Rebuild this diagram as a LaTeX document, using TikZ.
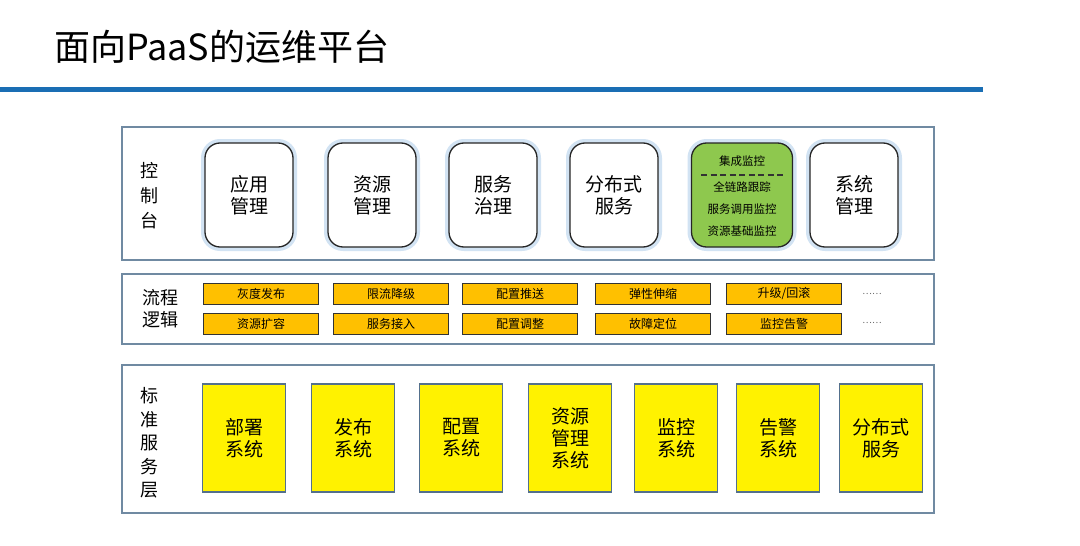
\documentclass[tikz,border=0pt]{standalone}
\usepackage{fontspec}
\setmainfont{Noto Sans CJK SC}
\usetikzlibrary{positioning}
\definecolor{titlebar}{RGB}{26,110,180}
\definecolor{layerline}{RGB}{112,138,162}
\definecolor{glow}{RGB}{210,227,243}
\definecolor{monfill}{RGB}{142,200,78}
\definecolor{procfill}{RGB}{255,192,0}
\definecolor{stdline}{RGB}{84,112,140}
\tikzset{
  layer/.style = {draw=layerline, line width=1.3},
  side/.style = {align=center, font=\fontsize{18}{24}\selectfont},
  ctrl/.style = {draw=black!85, line width=1.3, rounded corners=15, fill=white,
    minimum width=88, minimum height=104, align=center,
    font=\fontsize{19}{22}\selectfont,
    preaction={draw=glow, line width=8}},
  ctrlmon/.style = {ctrl, fill=monfill, minimum width=101},
  montext/.style = {font=\fontsize{11.5}{13}\selectfont},
  proc/.style = {draw=black!80, line width=1, fill=procfill, minimum width=115,
    minimum height=21, inner sep=0, font=\fontsize{12}{14}\selectfont},
  std/.style = {draw=stdline, line width=1.2, fill=yellow, minimum width=83,
    minimum height=108, align=center, font=\fontsize{19}{22}\selectfont}
}
\begin{document}
\begin{tikzpicture}[x=1pt, y=-1pt]
  \useasboundingbox (0,0) rectangle (1080,546);

  % title
  \node [anchor=west, inner sep=0, font=\fontsize{36}{40}\selectfont] (title) at (54,47) {面向PaaS的运维平台};
  \draw [titlebar, line width=5] (0,89) -- (983,89);

  % layers
  \draw [layer] (122,127) rectangle (934,260);
  \draw [layer] (122,274) rectangle (934,344);
  \draw [layer] (122,365) rectangle (934,513);

  \node [side, font=\fontsize{18}{25}\selectfont] (ctrllab) at (149,196) {控\\制\\台};
  \node [side, font=\fontsize{18}{22}\selectfont] (proclab) at (160,309) {流程\\逻辑};
  \node [side, font=\fontsize{18}{23.5}\selectfont] (stdlab) at (149,443) {标\\准\\服\\务\\层};

  % control panel
  \foreach \x/\lab/\name in {249/{应用\\管理}/app,372/{资源\\管理}/res,
      493/{服务\\治理}/gov,614/{分布式\\服务}/dist,854/{系统\\管理}/sys} {
    \node [ctrl] (\name) at (\x,195) {\lab};
  }
  \node [ctrlmon] (mon) at (742,195) {};
  \node [montext] (mon1) at (742,161) {集成监控};
  \draw [black!80, line width=1.2, dash pattern=on 6 off 3.5] (701,175) -- (783,175);
  \node [montext] (mon2) at (742,187) {全链路跟踪};
  \node [montext] (mon3) at (742,209) {服务调用监控};
  \node [montext] (mon4) at (742,231) {资源基础监控};

  % process logic
  \foreach \x/\up/\down/\name in {261/灰度发布/资源扩容/p1,391/限流降级/服务接入/p2,
      520/配置推送/配置调整/p3,653/弹性伸缩/故障定位/p4,784/{升级/回滚}/监控告警/p5} {
    \node [proc] (\name a) at (\x,293.5) {\up};
    \node [proc] (\name b) at (\x,323.5) {\down};
  }
  \node [font=\fontsize{9}{10}\selectfont, text=black!60] (more1) at (872,294) {……};
  \node [font=\fontsize{9}{10}\selectfont, text=black!60] (more2) at (872,323) {……};

  % standard services
  \foreach \x/\lab/\name in {244/{部署\\系统}/s1,353/{发布\\系统}/s2,461/{配置\\系统}/s3,
      570/{资源\\管理\\系统}/s4,676/{监控\\系统}/s5,778/{告警\\系统}/s6,881/{分布式\\服务}/s7} {
    \node [std] (\name) at (\x,438) {\lab};
  }
\end{tikzpicture}
\end{document}
